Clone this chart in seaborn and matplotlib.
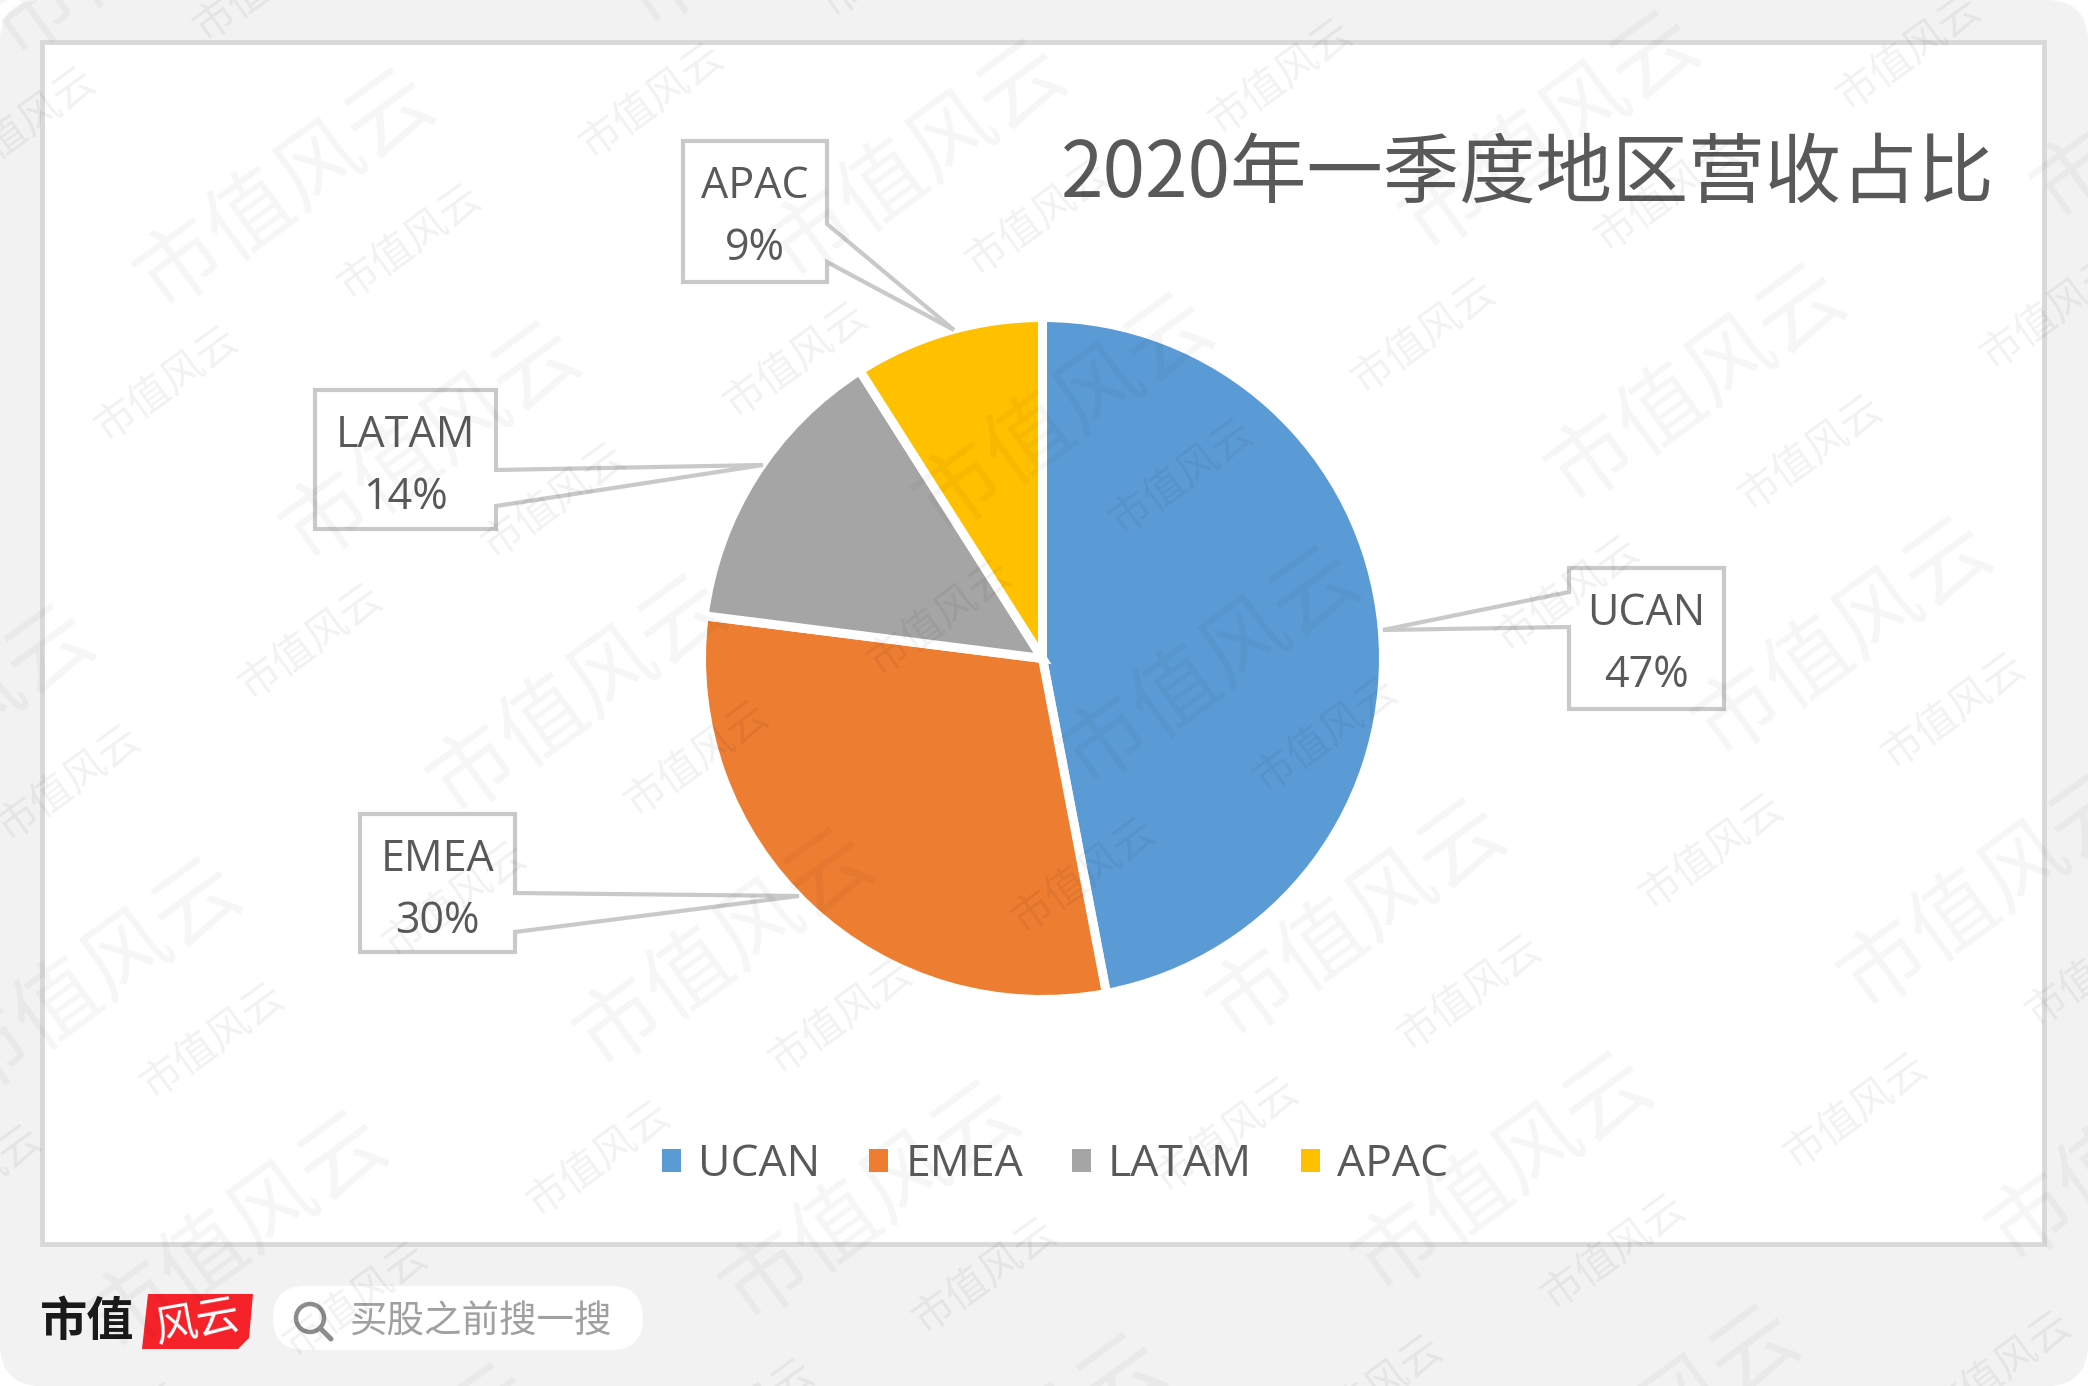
import matplotlib
matplotlib.use("Agg")
import matplotlib.pyplot as plt
import seaborn as sns
from matplotlib.patches import FancyBboxPatch, Patch, Polygon, Rectangle, Circle

# Regional revenue share, Q1 2020
regions = ["UCAN", "EMEA", "LATAM", "APAC"]
shares = [47, 30, 14, 9]
slice_colors = ["#5B9BD5", "#ED7D31", "#A5A5A5", "#FFC000"]
chart_title = "2020年一季度地区营收占比"
watermark = "市值风云"
search_hint = "买股之前搜一搜"

W, H = 2088, 1386
TEXT = "#595959"
LATIN = "Open Sans"
CJK = "Noto Sans CJK SC"

sns.set_theme(style="white")
palette = sns.color_palette(slice_colors)

fig = plt.figure(figsize=(W / 100, H / 100), dpi=100, facecolor="white")


def pixel_axes(z):
    ax = fig.add_axes([0, 0, 1, 1], zorder=z)
    ax.set_xlim(0, W)
    ax.set_ylim(H, 0)
    ax.axis("off")
    ax.patch.set_alpha(0)
    return ax


base = pixel_axes(0)

# Page background, chart frame
base.add_patch(FancyBboxPatch((0, 0), W, H, boxstyle="round,pad=0,rounding_size=42",
                              fc="#f2f2f2", ec="none"))
base.add_patch(Rectangle((42, 42), 2002, 1202, fc="white", ec="#d9d9d9", lw=3.5))

# Pie
cx, cy, r = 1042.5, 658.5, 341
pie_ax = fig.add_axes([(cx - 1.25 * r) / W, 1 - (cy + 1.25 * r) / H, 2.5 * r / W, 2.5 * r / H], zorder=1)
pie_ax.pie(shares, colors=palette, startangle=90, counterclock=False,
           wedgeprops=dict(edgecolor="white", linewidth=6.5))

# Callout boxes with their leaders: box left, top, right, bottom, leader attachment and tip
callouts = {
    "UCAN": (1569, 568, 1724, 709, "left", 592, 627, (1383, 630)),
    "EMEA": (360, 814, 515, 952, "right", 893, 932, (799, 896)),
    "LATAM": (315, 390, 496, 529, "right", 470, 506, (763, 465)),
    "APAC": (683, 141, 827, 282, "right", 224, 262, (954, 330)),
}
notes = pixel_axes(2)
for name, share in zip(regions, shares):
    x0, y0, x1, y1, side, a, b, tip = callouts[name]
    if side == "right":
        pts = [(x0, y0), (x1, y0), (x1, a), tip, (x1, b), (x1, y1), (x0, y1)]
    else:
        pts = [(x0, y0), (x1, y0), (x1, y1), (x0, y1), (x0, b), tip, (x0, a)]
    notes.add_patch(Polygon(pts, closed=True, fc="white", ec="#c9c9c9", lw=3, joinstyle="miter", zorder=3))
    xm = (x0 + x1) / 2
    notes.text(xm, y0 + 46, name, ha="center", va="center", color=TEXT, fontsize=31, family=LATIN, zorder=4)
    notes.text(xm, y0 + 108, f"{share}%", ha="center", va="center", color=TEXT, fontsize=31, family=LATIN, zorder=4)

# Title
base.text(1061, 175, chart_title, ha="left", va="center", color=TEXT, fontsize=55, fontweight="light",
          family=[CJK], zorder=4)

# Legend
handles = [Patch(facecolor=c, edgecolor="none") for c in palette]
fig.legend(handles, regions, loc="center", bbox_to_anchor=(1055 / W, 1 - 1165 / H), ncol=4, frameon=False,
           prop=dict(family=LATIN, size=32), labelcolor=TEXT,
           handlelength=0.42, handleheight=0.42, handletextpad=0.39, columnspacing=1.1)

# Footer brand and search box
base.text(40, 1322, "市值", ha="left", va="center", color="#1a1a1a", fontsize=34, fontweight="bold", family=[CJK])
base.add_patch(Polygon([(148, 1294), (253, 1294), (249, 1338), (238, 1349), (142, 1349)], closed=True,
                       fc="#f5222a", ec="none"))
base.text(197, 1322, "风云", ha="center", va="center", color="white", fontsize=31, rotation=10, family=[CJK])
base.add_patch(FancyBboxPatch((273, 1286), 370, 64, boxstyle="round,pad=0,rounding_size=32",
                              fc="white", ec="none"))
base.add_patch(Circle((310, 1318), 14, fc="none", ec="#8c8c8c", lw=3.2))
base.plot([320, 331], [1328, 1339], color="#8c8c8c", lw=3.6, solid_capstyle="round")
base.text(349, 1322, search_hint, ha="left", va="center", color="#a0a0a0", fontsize=27, family=[CJK])

# Repeating diagonal watermark across the whole page
overlay = pixel_axes(5)
k = W / 1568
for i in range(-6, 8):
    for j in range(-6, 10):
        px = 308 * k + i * 182 * k + j * 290 * k
        py = 182 * k - i * 106 * k + j * 88 * k
        if -150 < px < W + 150 and -150 < py < H + 150:
            overlay.text(px, py, watermark, ha="center", va="center", rotation=36, fontsize=30, fontweight="light",
                         color="black", alpha=0.055, family=[CJK], clip_on=True)
        qx = 215 * k + i * 475 * k + j * 110 * k
        qy = 143 * k - i * 22 * k + j * 190 * k
        if -300 < qx < W + 300 and -300 < qy < H + 300:
            overlay.text(qx, qy, watermark, ha="center", va="center", rotation=36, fontsize=62, fontweight="light",
                         color="black", alpha=0.04, family=[CJK], clip_on=True)

fig.savefig("out.png", dpi=100, facecolor="white")
